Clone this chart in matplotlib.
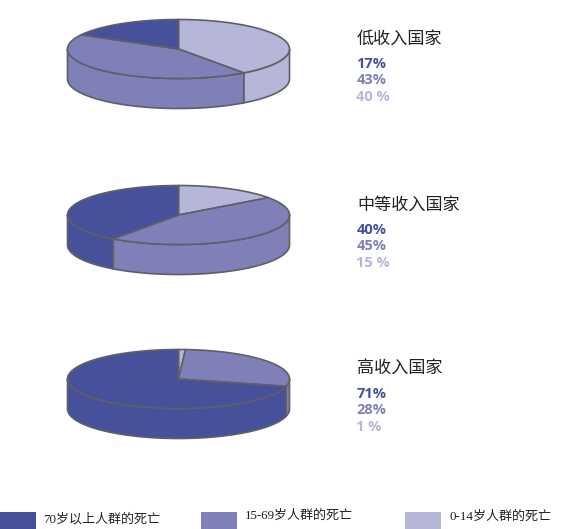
import numpy as np
import matplotlib
matplotlib.use('Agg')
import matplotlib.pyplot as plt
from matplotlib.patches import Rectangle

# 数据
groups = ['低收入国家', '中等收入国家', '高收入国家']
under_15 = [40, 15, 1]
age_15_69 = [43, 45, 28]
over_70 = [17, 40, 71]
pct_labels = [['17%', '43%', '40 %'], ['40%', '45%', '15 %'], ['71%', '28%', '1 %']]
legend_labels = ['70岁以上人群的死亡', '15-69岁人群的死亡', '0-14岁人群的死亡']

dark = '#47519B'
mid = '#8080B8'
light = '#B6B6D9'
edge = '#5E5F68'
colors = [light, mid, dark]  # 顺时针，从正上方开始

cx = 178.5
centers_y = [49, 215, 379]
rx, ry, depth = 111, 29.5, 30

fig = plt.figure(figsize=(5.87, 5.29), dpi=100)
ax = fig.add_axes([0, 0, 1, 1])
ax.set_xlim(0, 587)
ax.set_ylim(529, 0)
ax.axis('off')


def ell(theta, cy):
    # theta: 从正上方顺时针的弧度
    return cx + rx * np.sin(theta), cy - ry * np.cos(theta)


def draw_pie(values, cy):
    shares = np.array(values, dtype=float)
    bounds = np.concatenate([[0], np.cumsum(shares) / shares.sum()]) * 2 * np.pi
    # 侧面，只有下半圆可见
    for i, c in enumerate(colors):
        a = max(bounds[i], np.pi / 2)
        b = min(bounds[i + 1], 3 * np.pi / 2)
        if b <= a:
            continue
        t = np.linspace(a, b, 100)
        x, y = ell(t, cy)
        ax.fill(np.r_[x, x[::-1]], np.r_[y, y[::-1] + depth], fc=c, ec=edge, lw=1.2, joinstyle='round')
    # 顶面
    for i, c in enumerate(colors):
        t = np.linspace(bounds[i], bounds[i + 1], 150)
        x, y = ell(t, cy)
        ax.fill(np.r_[cx, x], np.r_[cy, y], fc=c, ec=edge, lw=1.2, joinstyle='round')


for k, name in enumerate(groups):
    cy = centers_y[k]
    draw_pie([under_15[k], age_15_69[k], over_70[k]], cy)
    ax.text(357, cy - 10, name, fontsize=12.3, family=['Noto Sans CJK SC', 'DejaVu Sans'],
            color='#222222', va='center', ha='left')
    for j, c in enumerate([dark, mid, light]):
        ax.text(356.5, cy + 14.5 + j * 16.7, pct_labels[k][j], fontsize=10.5, fontweight='bold',
                family='Open Sans', color=c, va='center', ha='left')

# 图例
swatch_x = [0, 201, 405]
text_x = [43, 245, 450]
text_y = [519, 516, 517]
for sx, tx, ty, c, lab in zip(swatch_x, text_x, text_y, [dark, mid, light], legend_labels):
    ax.add_patch(Rectangle((sx, 512), 36, 17, fc=c, ec='none'))
    ax.text(tx, ty, lab, fontsize=9.4, family=['Liberation Serif', 'Noto Sans CJK SC'],
            color='#222222', va='center', ha='left')

fig.savefig('out.png', dpi=100)
